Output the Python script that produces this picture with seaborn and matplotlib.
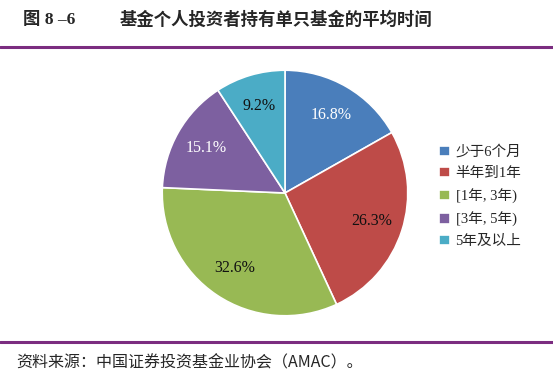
import matplotlib
matplotlib.use("Agg")
import matplotlib.pyplot as plt
from matplotlib.lines import Line2D
import seaborn as sns

sns.set_style("white")
plt.rcParams["font.family"] = ["Liberation Serif", "Noto Sans CJK SC", "DejaVu Sans"]

categories = ["少于6个月", "半年到1年", "[1年, 3年)", "[3年, 5年)", "5年及以上"]
shares = [16.8, 26.3, 32.6, 15.1, 9.2]
colors = sns.color_palette(["#4A7EBB", "#BE4B48", "#98B954", "#7D60A0", "#4BACC6"])
label_colors = ["white", "#111111", "#111111", "white", "#111111"]

fig = plt.figure(figsize=(5.53, 3.83), dpi=100)
ax = fig.add_axes([285 / 553 - 124 / 553, 1 - 317 / 383, 248 / 553, 248 / 383])

wedges, texts, autotexts = ax.pie(
    shares, colors=colors, startangle=90, counterclock=False,
    autopct="%.1f%%", pctdistance=0.74,
    wedgeprops=dict(edgecolor="white", linewidth=1.2),
    textprops=dict(fontsize=11.5),
)
for t, c in zip(autotexts, label_colors):
    t.set_color(c)
ax.set_xlim(-1.01, 1.01)
ax.set_ylim(-1.01, 1.01)
ax.set_aspect("equal")

ax.legend(wedges, categories, loc="center left", bbox_to_anchor=(1.07, 0.485),
          frameon=False, handlelength=0.7, handleheight=0.7,
          handletextpad=0.4, labelspacing=0.56,
          prop={"family": ["Liberation Serif", "Noto Sans CJK SC"], "size": 10.5})

# header and footer rules
for y in (1 - 47 / 383, 1 - 342 / 383):
    fig.add_artist(Line2D([0, 1], [y, y], transform=fig.transFigure,
                          color="#7B2D80", linewidth=2.2))

fig.text(23 / 553, 1 - 20 / 383, "图 8 –6", fontsize=12.5, fontweight="bold",
         va="center", family=["Liberation Serif", "Noto Sans CJK SC"])
fig.text(120 / 553, 1 - 20 / 383, "基金个人投资者持有单只基金的平均时间", fontsize=12.5,
         fontweight="bold", va="center", family=["Noto Sans CJK SC"])
fig.text(16 / 553, 1 - 363 / 383, "资料来源：中国证券投资基金业协会（AMAC）。", fontsize=11.5,
         va="center", family=["Noto Sans CJK SC"])

fig.savefig("out.png", dpi=100)
